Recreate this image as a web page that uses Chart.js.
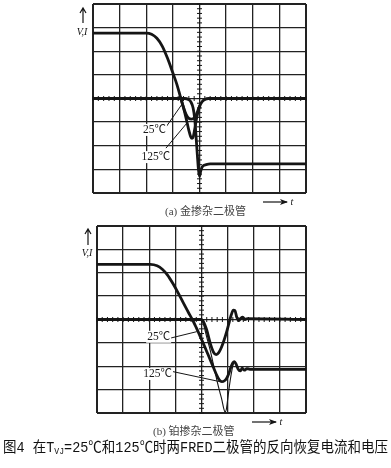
<!DOCTYPE html>
<html>
<head>
<meta charset="utf-8">
<script src="https://cdn.jsdelivr.net/npm/chart.js@4.4.1/dist/chart.umd.min.js"></script>
<style>
html, body { margin: 0; padding: 0; background: #fff; }
body { width: 391px; height: 468px; position: relative; overflow: hidden; }
.panel { position: absolute; left: 0; width: 391px; height: 220px; }
.cap { position: absolute; font-family: "Liberation Serif", "Noto Sans CJK SC"; font-size: 11px; line-height: 12px; color: #444; white-space: nowrap; }
#title { position: absolute; left: 3px; top: 440px; font-family: "Liberation Mono", "Noto Sans CJK SC"; font-size: 15px; line-height: 17px; color: #111; white-space: nowrap; transform-origin: 0 0; }
#title sub { font-size: 9px; vertical-align: -2px; }
</style>
</head>
<body>
<div class="panel" style="top:0"><canvas id="chartA"></canvas></div>
<div class="panel" style="top:220px"><canvas id="chartB"></canvas></div>
<div class="cap" style="left:165px;top:205px">(a) 金掺杂二极管</div>
<div class="cap" style="left:153px;top:425px">(b) 铂掺杂二极管</div>
<div id="title">图4 在T<sub>VJ</sub>=25℃和125℃时两FRED二极管的反向恢复电流和电压</div>
<script>
// ---- screen: 8 x 8 divisions, x 0..8, y -4..4 ----

// (a) gold-doped diode
const aCurrent25 = [[0,2.77],[2.0,2.77],[2.2,2.72],[2.4,2.55],[2.6,2.22],[2.8,1.7],[3.0,1.08],[3.15,0.6],[3.28,0.08],[3.4,-0.38],[3.5,-0.68],[3.6,-0.84],[3.7,-0.87],[3.8,-0.82],[3.88,-0.68],[3.95,-0.48],[4.02,-0.28],[4.1,-0.13],[4.2,-0.04],[4.34,0],[8,0]];
const aCurrent125 = [[3.28,0.08],[3.4,-0.4],[3.5,-0.85],[3.6,-1.35],[3.67,-1.62],[3.72,-1.69],[3.77,-1.6],[3.82,-1.3],[3.88,-0.9],[3.95,-0.55],[4.02,-0.28]];
const aVoltage = [[0,0],[3.45,0],[3.58,-0.04],[3.68,-0.15],[3.76,-0.4],[3.82,-0.85],[3.87,-1.6],[3.92,-2.4],[3.96,-3.0],[4.0,-3.3],[4.04,-3.1],[4.08,-2.95],[4.14,-2.85],[4.25,-2.8],[4.4,-2.77],[8,-2.77]];
const aLeader25 = [[2.74,-1.21],[3.35,-0.23]];
const aLeader125 = [[2.74,-2.1],[3.52,-1.05]];

// (b) platinum-doped diode
const bCurrent = [[0,2.36],[2.04,2.36],[2.3,2.3],[2.5,2.15],[2.7,1.9],[2.9,1.55],[3.1,1.15],[3.3,0.72],[3.5,0.3],[3.65,0],[3.8,-0.35],[3.95,-0.72],[4.1,-1.1],[4.25,-1.5],[4.4,-1.9],[4.55,-2.3],[4.68,-2.58],[4.78,-2.66],[4.88,-2.62],[4.97,-2.5],[5.05,-2.3],[5.12,-2.05],[5.2,-1.85],[5.26,-1.8],[5.32,-1.9],[5.4,-2.12],[5.48,-2.2],[5.56,-2.08],[5.64,-2.17],[5.74,-2.1],[5.85,-2.13],[8,-2.13]];
const bTrace25 = [[0,0],[3.98,0],[4.05,-0.05],[4.12,-0.2],[4.2,-0.45],[4.33,-1.0],[4.46,-1.4],[4.56,-1.5],[4.66,-1.42],[4.76,-1.2],[4.86,-0.9],[4.97,-0.5],[5.06,-0.12],[5.14,0.2],[5.22,0.4],[5.28,0.38],[5.35,0.1],[5.42,-0.05],[5.5,0.05],[5.58,0.1],[5.66,0],[5.75,0.04],[8,0]];
const bTrace125 = [[4.02,0],[4.1,-0.3],[4.2,-0.75],[4.33,-1.3],[4.46,-1.95],[4.59,-2.6],[4.7,-3.1],[4.78,-3.44],[4.85,-3.8],[4.9,-3.95],[4.95,-3.85],[5.0,-3.44],[5.05,-3.0],[5.1,-2.6],[5.16,-2.2],[5.22,-1.9],[5.26,-1.82]];
const bLeader25 = [[2.8,-0.8],[3.82,-0.52]];
const bLeader125 = [[2.91,-2.23],[4.71,-2.66]];

const INK = '#151515';

function trace(data, width) {
    return {
        data, borderColor: INK, borderWidth: width, pointRadius: 0,
        cubicInterpolationMode: 'monotone', fill: false
    };
}

function leader(data) {
    return { data, borderColor: INK, borderWidth: 1, pointRadius: 0, tension: 0, fill: false };
}

// ─── scope decorations: centre-axis minor ticks, axis arrows, labels ───
const scopeDecor = {
    id: 'scopeDecor',
    beforeDatasetsDraw(chart) {
        const { ctx, scales: { x, y } } = chart;
        const cx = x.getPixelForValue(4), cy = y.getPixelForValue(0);
        ctx.save();
        ctx.strokeStyle = INK;
        ctx.lineWidth = 1;
        ctx.beginPath();
        for (let i = 0; i <= 40; i++) {
            const px = x.getPixelForValue(i / 5);
            ctx.moveTo(px, cy - 2.5); ctx.lineTo(px, cy + 2.5);
            const py = y.getPixelForValue(-4 + i / 5);
            ctx.moveTo(cx - 2.5, py); ctx.lineTo(cx + 2.5, py);
        }
        ctx.stroke();
        ctx.restore();
    },
    afterDraw(chart, args, opts) {
        const { ctx, chartArea: a, scales: { x, y } } = chart;
        ctx.save();
        ctx.strokeStyle = INK;
        ctx.fillStyle = INK;
        ctx.lineWidth = 1.2;
        // vertical V,I arrow
        const ax = a.left + opts.vArrow.dx;
        ctx.beginPath();
        ctx.moveTo(ax, opts.vArrow.y1); ctx.lineTo(ax, opts.vArrow.y0);
        ctx.moveTo(ax - 3, opts.vArrow.y0 + 5); ctx.lineTo(ax, opts.vArrow.y0); ctx.lineTo(ax + 3, opts.vArrow.y0 + 5);
        ctx.stroke();
        ctx.font = 'italic 10px "Liberation Serif"';
        ctx.textAlign = 'center';
        ctx.textBaseline = 'middle';
        ctx.fillText('V,I', ax - 1, opts.vArrow.labelY);
        // horizontal t arrow
        const t = opts.tArrow;
        ctx.beginPath();
        ctx.moveTo(t.x0, t.y); ctx.lineTo(t.x1, t.y);
        ctx.stroke();
        ctx.beginPath();
        ctx.moveTo(t.x1 + 1, t.y); ctx.lineTo(t.x1 - 7, t.y - 3); ctx.lineTo(t.x1 - 5, t.y); ctx.lineTo(t.x1 - 7, t.y + 3);
        ctx.closePath(); ctx.fill();
        ctx.fillText('t', t.x1 + 5, t.y);
        // temperature labels
        ctx.font = '11.5px "Liberation Serif", "Noto Sans CJK SC"';
        ctx.textAlign = 'right';
        opts.labels.forEach(l => {
            const px = x.getPixelForValue(l.x), py = y.getPixelForValue(l.y);
            ctx.fillStyle = '#fff';
            const w = ctx.measureText(l.text).width;
            ctx.fillRect(px - w - 1, py - 6, w + 2, 12);
            ctx.fillStyle = '#1a1a1a';
            ctx.fillText(l.text, px, py);
        });
        ctx.restore();
    }
};

function scopeScales() {
    const edge = (c, lo, hi) => (c.tick && (c.tick.value === lo || c.tick.value === hi) ? 2 : 1.3);
    return {
        x: {
            type: 'linear', min: 0, max: 8,
            ticks: { display: false, stepSize: 1 },
            grid: { color: '#222', drawTicks: false, lineWidth: c => edge(c, 0, 8) },
            border: { display: false }
        },
        y: {
            type: 'linear', min: -4, max: 4,
            ticks: { display: false, stepSize: 1 },
            grid: { color: '#222', drawTicks: false, lineWidth: c => edge(c, -4, 4) },
            border: { display: false }
        }
    };
}

function renderScope(canvasId, datasets, pad, decor) {
    const ctx = document.getElementById(canvasId);
    return new Chart(ctx, {
        type: 'line',
        data: { datasets },
        options: {
            responsive: true, maintainAspectRatio: false, animation: false,
            layout: { padding: pad },
            plugins: { legend: { display: false }, tooltip: { enabled: false }, scopeDecor: decor },
            scales: scopeScales()
        },
        plugins: [scopeDecor]
    });
}

renderScope('chartA', [
    trace(aCurrent25, 2.8),
    trace(aCurrent125, 2.8),
    trace(aVoltage, 2.8),
    leader(aLeader25),
    leader(aLeader125)
], { left: 93, right: 85, top: 4, bottom: 27 }, {
    vArrow: { dx: -10, y0: 8, y1: 23, labelY: 32 },
    tArrow: { x0: 263, x1: 287, y: 202 },
    labels: [{ text: '25℃', x: 2.74, y: -1.33 }, { text: '125℃', x: 2.9, y: -2.48 }]
});

renderScope('chartB', [
    trace(bCurrent, 2.8),
    trace(bTrace25, 2.8),
    trace(bTrace125, 1.1),
    leader(bLeader25),
    leader(bLeader125)
], { left: 97, right: 85, top: 6, bottom: 27 }, {
    vArrow: { dx: -9, y0: 9, y1: 25, labelY: 33 },
    tArrow: { x0: 252, x1: 276, y: 202 },
    labels: [{ text: '25℃', x: 2.8, y: -0.74 }, { text: '125℃', x: 2.87, y: -2.33 }]
});

// fit caption to the original width
const title = document.getElementById('title');
const w = title.getBoundingClientRect().width;
title.style.transform = 'scaleX(' + (385 / w) + ')';
</script>
</body>
</html>
